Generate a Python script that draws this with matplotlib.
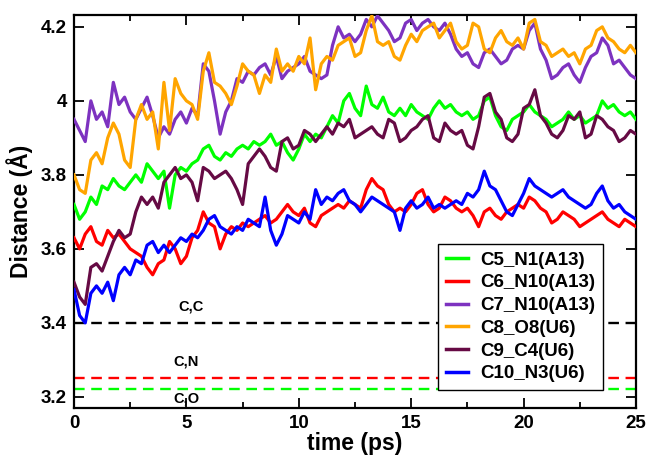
import numpy as np
import matplotlib
matplotlib.use("Agg")
import matplotlib.pyplot as plt
from matplotlib.ticker import MultipleLocator

plt.rcParams['font.family'] = ['Liberation Sans', 'DejaVu Sans']
plt.rcParams['font.weight'] = 'bold'

# time grid (ps), sampled every 0.25 ps
time = np.linspace(0, 25, 101)

c5_n1 = [3.72, 3.68, 3.70, 3.74, 3.72, 3.77, 3.76, 3.79, 3.77, 3.76, 3.78, 3.80, 3.78, 3.83, 3.81, 3.79,
         3.81, 3.71, 3.80, 3.82, 3.81, 3.83, 3.84, 3.87, 3.88, 3.85, 3.84, 3.86, 3.85, 3.87, 3.88, 3.87,
         3.89, 3.88, 3.89, 3.91, 3.88, 3.89, 3.86, 3.84, 3.87, 3.91, 3.89, 3.91, 3.90, 3.93, 3.96, 3.94,
         4.00, 4.02, 3.98, 3.96, 4.04, 3.99, 3.98, 4.01, 3.97, 3.96, 3.98, 3.96, 3.99, 3.97, 3.96, 3.95,
         3.98, 4.00, 3.98, 3.99, 3.97, 3.96, 3.97, 3.95, 3.96, 4.00, 4.01, 3.96, 3.93, 3.92, 3.95, 3.96,
         3.97, 3.99, 3.97, 3.96, 3.95, 3.93, 3.94, 3.95, 3.97, 3.95, 3.96, 3.94, 3.95, 3.96, 4.00, 3.98,
         3.99, 3.97, 3.96, 3.97, 3.95]

c6_n10 = [3.63, 3.60, 3.64, 3.66, 3.62, 3.61, 3.65, 3.63, 3.64, 3.62, 3.60, 3.59, 3.58, 3.55, 3.53, 3.56,
          3.57, 3.62, 3.60, 3.56, 3.58, 3.63, 3.65, 3.70, 3.67, 3.66, 3.60, 3.64, 3.66, 3.65, 3.67, 3.66,
          3.67, 3.68, 3.69, 3.67, 3.68, 3.70, 3.72, 3.70, 3.69, 3.71, 3.67, 3.66, 3.69, 3.70, 3.71, 3.72,
          3.71, 3.73, 3.72, 3.71, 3.76, 3.79, 3.77, 3.76, 3.72, 3.70, 3.71, 3.70, 3.72, 3.75, 3.76, 3.72,
          3.70, 3.71, 3.74, 3.73, 3.71, 3.70, 3.71, 3.69, 3.66, 3.70, 3.71, 3.69, 3.68, 3.70, 3.71, 3.72,
          3.71, 3.74, 3.73, 3.71, 3.70, 3.67, 3.68, 3.70, 3.69, 3.68, 3.66, 3.67, 3.68, 3.69, 3.70, 3.68,
          3.67, 3.66, 3.68, 3.67, 3.66]

c7_n10 = [3.95, 3.92, 3.89, 4.00, 3.95, 3.97, 3.93, 4.05, 3.99, 4.01, 3.97, 3.95, 3.98, 4.01, 3.96, 3.90,
          3.93, 3.91, 3.95, 3.97, 3.94, 3.98, 3.96, 4.10, 4.08, 4.00, 3.91, 3.97, 4.00, 4.06, 4.05, 4.08,
          4.07, 4.09, 4.10, 4.07, 4.12, 4.06, 4.08, 4.09, 4.10, 4.12, 4.08, 4.07, 4.06, 4.07, 4.15, 4.20,
          4.17, 4.18, 4.16, 4.18, 4.22, 4.20, 4.23, 4.21, 4.19, 4.16, 4.17, 4.21, 4.22, 4.19, 4.21, 4.22,
          4.20, 4.19, 4.21, 4.18, 4.14, 4.12, 4.13, 4.10, 4.09, 4.13, 4.14, 4.12, 4.10, 4.11, 4.14, 4.15,
          4.14, 4.19, 4.21, 4.14, 4.11, 4.06, 4.07, 4.09, 4.10, 4.07, 4.05, 4.09, 4.12, 4.13, 4.17, 4.15,
          4.10, 4.11, 4.09, 4.07, 4.06]

c8_o8 = [3.80, 3.76, 3.75, 3.84, 3.86, 3.83, 3.90, 3.94, 3.91, 3.84, 3.82, 3.95, 3.99, 3.95, 3.97, 3.87,
         4.05, 3.92, 4.06, 4.02, 4.00, 3.99, 3.95, 4.08, 4.13, 4.05, 4.04, 4.02, 3.99, 4.04, 4.10, 4.08,
         4.07, 4.02, 4.07, 4.05, 4.14, 4.08, 4.10, 4.08, 4.12, 4.10, 4.17, 4.03, 4.10, 4.12, 4.11, 4.15,
         4.16, 4.17, 4.12, 4.13, 4.19, 4.23, 4.16, 4.15, 4.16, 4.12, 4.11, 4.15, 4.18, 4.16, 4.19, 4.20,
         4.21, 4.17, 4.19, 4.21, 4.16, 4.14, 4.15, 4.21, 4.20, 4.14, 4.13, 4.17, 4.19, 4.16, 4.15, 4.17,
         4.14, 4.21, 4.22, 4.16, 4.15, 4.12, 4.13, 4.14, 4.12, 4.13, 4.10, 4.14, 4.15, 4.19, 4.20, 4.17,
         4.16, 4.14, 4.13, 4.15, 4.13]

c9_c4 = [3.51, 3.47, 3.45, 3.55, 3.56, 3.54, 3.58, 3.62, 3.65, 3.63, 3.64, 3.70, 3.74, 3.72, 3.74, 3.71,
         3.78, 3.80, 3.82, 3.79, 3.80, 3.78, 3.73, 3.82, 3.81, 3.79, 3.80, 3.81, 3.79, 3.76, 3.72, 3.83,
         3.85, 3.87, 3.85, 3.82, 3.81, 3.89, 3.90, 3.87, 3.88, 3.92, 3.91, 3.89, 3.91, 3.93, 3.91, 3.94,
         3.93, 3.95, 3.90, 3.91, 3.92, 3.93, 3.91, 3.90, 3.95, 3.94, 3.89, 3.90, 3.92, 3.93, 3.95, 3.96,
         3.90, 3.89, 3.94, 3.92, 3.91, 3.92, 3.88, 3.87, 3.93, 4.01, 4.02, 3.97, 3.95, 3.90, 3.89, 3.91,
         3.98, 3.99, 4.03, 3.96, 3.94, 3.91, 3.90, 3.92, 3.96, 3.95, 3.97, 3.90, 3.91, 3.96, 3.95, 3.93,
         3.92, 3.89, 3.90, 3.92, 3.91]

c10_n3 = [3.49, 3.42, 3.40, 3.48, 3.50, 3.48, 3.51, 3.46, 3.53, 3.55, 3.53, 3.57, 3.56, 3.61, 3.62, 3.59,
          3.61, 3.59, 3.61, 3.63, 3.62, 3.64, 3.63, 3.65, 3.68, 3.69, 3.66, 3.65, 3.64, 3.66, 3.65, 3.68,
          3.67, 3.66, 3.74, 3.65, 3.61, 3.64, 3.69, 3.68, 3.67, 3.70, 3.68, 3.76, 3.72, 3.74, 3.73, 3.75,
          3.76, 3.73, 3.72, 3.70, 3.72, 3.74, 3.73, 3.72, 3.71, 3.70, 3.65, 3.71, 3.73, 3.71, 3.72, 3.74,
          3.71, 3.72, 3.71, 3.72, 3.73, 3.72, 3.75, 3.74, 3.76, 3.81, 3.77, 3.76, 3.73, 3.70, 3.69, 3.72,
          3.75, 3.79, 3.77, 3.76, 3.75, 3.74, 3.75, 3.76, 3.74, 3.73, 3.72, 3.71, 3.72, 3.75, 3.77, 3.73,
          3.71, 3.72, 3.70, 3.69, 3.68]

series_labels = ['C5_N1(A13)', 'C6_N10(A13)', 'C7_N10(A13)', 'C8_O8(U6)', 'C9_C4(U6)', 'C10_N3(U6)']
series_colors = ['#00ff00', '#ff0000', '#7d32c0', '#ffa500', '#660a44', '#0000ff']
series_values = [c5_n1, c6_n10, c7_n10, c8_o8, c9_c4, c10_n3]

# reference contact distances
ref_levels = [3.4, 3.25, 3.22]
ref_colors = ['black', '#ff0000', '#00ff00']
ref_texts = ['C,C', 'C,N', 'C,O']
ref_text_pos = [(5.2, 3.445), (5.0, 3.295), (5.0, 3.195)]

fig = plt.figure(figsize=(6.47, 4.58), dpi=100)
ax = fig.add_axes([74/647, 50/458, 562/647, 393/458])

for vals, col, lab in zip(series_values, series_colors, series_labels):
    ax.plot(time, vals, color=col, lw=2.3, label=lab, zorder=3)

for lev, col in zip(ref_levels, ref_colors):
    ax.axhline(lev, color=col, lw=1.7, dashes=(4.5, 2.8), zorder=2)

for txt, (tx, ty) in zip(ref_texts, ref_text_pos):
    ax.text(tx, ty, txt, fontsize=10.5, fontweight='bold', ha='center', va='center', zorder=4)

ax.set_xlim(0, 25)
ax.set_ylim(3.17, 4.232)
ax.xaxis.set_major_locator(MultipleLocator(5))
ax.xaxis.set_minor_locator(MultipleLocator(2.5))
ax.set_yticks([3.2, 3.4, 3.6, 3.8, 4.0, 4.2])
ax.set_yticklabels(['3.2', '3.4', '3.6', '3.8', '4', '4.2'])

ax.tick_params(which='both', direction='in', top=True, right=True, width=1.3)
ax.tick_params(which='major', length=7, labelsize=13.5, pad=5)
ax.tick_params(which='minor', length=4)
for lab in ax.get_xticklabels() + ax.get_yticklabels():
    lab.set_fontweight('bold')
for sp in ax.spines.values():
    sp.set_linewidth(1.6)

ax.set_xlabel('time (ps)', fontsize=16.5, fontweight='bold', labelpad=0)
ax.set_ylabel('Distance (Å)', fontsize=16.5, fontweight='bold', labelpad=6)

leg = ax.legend(loc='lower left', bbox_to_anchor=(0.648, 0.046), fontsize=13.5,
                frameon=True, fancybox=False, edgecolor='black', framealpha=1,
                handlelength=1.2, handletextpad=0.65, labelspacing=0.3,
                borderpad=0.4, borderaxespad=0)
leg.get_frame().set_linewidth(1.0)
for t in leg.get_texts():
    t.set_fontweight('bold')
for h in leg.get_lines():
    h.set_linewidth(2.5)

fig.savefig('out.png', dpi=100)
